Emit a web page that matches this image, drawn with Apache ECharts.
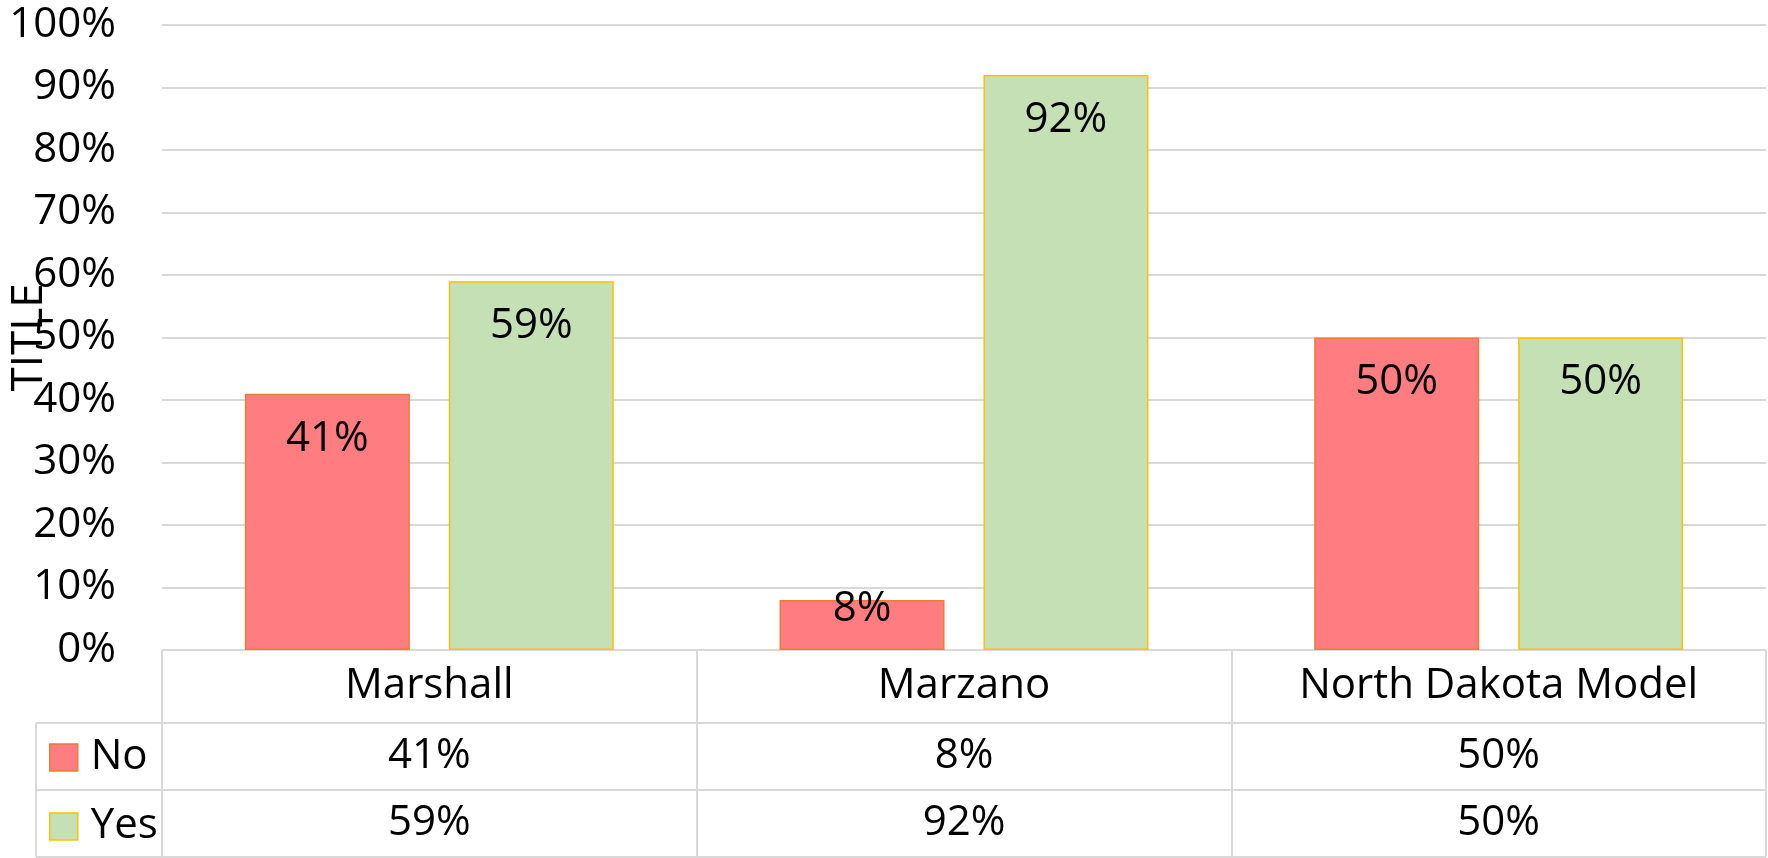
<!DOCTYPE html>
<html>
<head>
	<meta charset="utf-8">
	<title>Marshall / Marzano / North Dakota Model</title>
	<script src="https://cdn.jsdelivr.net/npm/echarts@6/dist/echarts.min.js"></script>
	<style>
		html, body { margin: 0; padding: 0; background: #ffffff; }
		#main { width: 1768px; height: 858px; }
	</style>
</head>
<body>
	<div id="main"></div>
	<script type="text/javascript">
	// data
	var categories = ['Marshall', 'Marzano', 'North Dakota Model'];
	var seriesNames = ['No', 'Yes'];
	var noValues = [0.41, 0.08, 0.50];
	var yesValues = [0.59, 0.92, 0.50];
	var yMin = 0, yMax = 1, yStep = 0.1;

	// layout (px)
	var W = 1768, H = 858;
	var gridLeft = 162, gridRight = 2, gridTop = 25, gridBottom = 208;
	var axisY = H - gridBottom;          // 650, top of the data table
	var row1 = 723, row2 = 790, row3 = 857; // table row lines
	var legendColLeft = 36;
	var lineColor = '#d9d9d9';
	var fontFamily = '"Open Sans", "Noto Sans", sans-serif';
	var fontSize = 42;

	var colors = {
		No: { fill: '#ff7c80', border: '#ed7d31' },
		Yes: { fill: '#c5e0b4', border: '#ffc000' }
	};

	function pct(v) { return Math.round(v * 100) + '%'; }

	// short bars get their label pushed up (like excel does)
	function barData(values) {
		return values.map(function (v) {
			var item = { value: v };
			if (v < 0.15) item.label = { distance: -12 };
			return item;
		});
	}

	function barSeries(name, values) {
		return {
			name: name,
			type: 'bar',
			xAxisIndex: 0,
			data: barData(values),
			barGap: '23.6%',
			barCategoryGap: '31%',
			itemStyle: {
				color: colors[name].fill,
				borderColor: colors[name].border,
				borderWidth: 1.5
			},
			label: {
				show: true,
				position: 'insideTop',
				distance: 24,
				color: '#000',
				fontFamily: fontFamily,
				fontSize: fontSize,
				formatter: function (p) { return pct(p.value); }
			}
		};
	}

	// a hidden x axis whose labels form one row of the data table
	function tableRowAxis(values, centerY) {
		return {
			type: 'category',
			gridIndex: 0,
			position: 'bottom',
			data: categories,
			axisLine: { show: false },
			axisTick: { show: false },
			splitLine: { show: false },
			axisLabel: {
				interval: 0,
				margin: centerY - axisY,
				verticalAlign: 'middle',
				color: '#000',
				fontFamily: fontFamily,
				fontSize: fontSize,
				formatter: function (v, i) { return pct(values[i]); }
			}
		};
	}

	function hLine(x1, x2, y) {
		return { type: 'line', shape: { x1: x1, y1: y, x2: x2, y2: y }, style: { stroke: lineColor, lineWidth: 2 }, silent: true };
	}
	function vLine(x, y1, y2) {
		return { type: 'line', shape: { x1: x, y1: y1, x2: x, y2: y2 }, style: { stroke: lineColor, lineWidth: 2 }, silent: true };
	}

	var myChart = echarts.init(document.getElementById('main'));
	var option = {
		backgroundColor: '#ffffff',
		animation: false,
		textStyle: { fontFamily: fontFamily },
		grid: {
			left: gridLeft, right: gridRight, top: gridTop, bottom: gridBottom,
			containLabel: false,
			outerBoundsMode: 'none'
		},
		legend: {
			orient: 'vertical',
			left: 49,
			top: (row1 + row2) / 2 - 20,
			padding: 0,
			itemWidth: 28,
			itemHeight: 27,
			itemGap: 27,
			icon: 'rect',
			textStyle: { color: '#000', fontFamily: fontFamily, fontSize: fontSize, lineHeight: 40, padding: [0, 0, 0, 8] },
			data: seriesNames.map(function (n) {
				return { name: n, itemStyle: { color: colors[n].fill, borderColor: colors[n].border, borderWidth: 1.5 } };
			})
		},
		xAxis: [
			{
				type: 'category',
				data: categories,
				axisLine: { show: true, lineStyle: { color: lineColor, width: 2 } },
				// ticks at the category edges make the table's column lines
				axisTick: { show: true, length: row3 - axisY, lineStyle: { color: lineColor, width: 2 } },
				axisLabel: {
					interval: 0,
					margin: (row1 - axisY) / 2,
					verticalAlign: 'middle',
					color: '#000',
					fontFamily: fontFamily,
					fontSize: fontSize
				}
			},
			tableRowAxis(noValues, (row1 + row2) / 2),
			tableRowAxis(yesValues, (row2 + row3) / 2)
		],
		yAxis: {
			type: 'value',
			min: yMin,
			max: yMax,
			interval: yStep,
			name: 'TITLE',
			nameLocation: 'middle',
			nameGap: 111,
			nameMoveOverlap: false, // the excel title sits on top of the tick labels
			nameTextStyle: { color: '#000', fontFamily: fontFamily, fontSize: 44 },
			axisLine: { show: false },
			axisTick: { show: false },
			axisLabel: {
				margin: 46,
				color: '#000',
				fontFamily: fontFamily,
				fontSize: fontSize,
				formatter: pct
			},
			splitLine: { lineStyle: { color: lineColor, width: 2 } }
		},
		series: [
			barSeries('No', noValues),
			barSeries('Yes', yesValues)
		],
		graphic: [
			hLine(legendColLeft, W - gridRight, row1),
			hLine(legendColLeft, W - gridRight, row2),
			hLine(legendColLeft, W - gridRight, row3),
			vLine(legendColLeft, row1, row3)
		]
	};

	myChart.setOption(option);
	</script>
</body>
</html>
